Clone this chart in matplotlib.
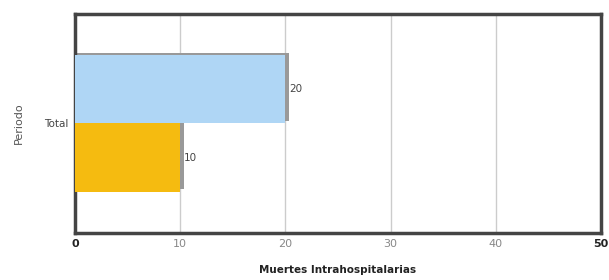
import numpy as np
import matplotlib.pyplot as plt

categories = ['Total']
series_values = [20, 10]
series_colors = ['#afd6f5', '#f5bb10']
x_ticks = [0, 10, 20, 30, 40, 50]

fig = plt.figure(figsize=(6.09, 2.8), dpi=100)
ax = fig.add_axes([0.123, 0.168, 0.864, 0.782])

h = 0.5
offsets = [h / 2, -h / 2]
for v, c, off in zip(series_values, series_colors, offsets):
    # gray shadow up and to the right
    ax.barh(off + 0.018, v + 0.25, height=h, left=0.1, color='#999999', zorder=2)
    ax.barh(off, v, height=h, color=c, zorder=3)
    ax.text(v + 0.35, off, str(v), va='center', ha='left', fontsize=7.5,
            color='#444444', zorder=4)

ax.set_xlim(0, 50)
ax.set_ylim(-0.8, 0.8)
ax.set_xticks(x_ticks)
ax.set_xticklabels([str(t) for t in x_ticks], fontsize=8, color='#888888')
for lbl in (ax.get_xticklabels()[0], ax.get_xticklabels()[-1]):
    lbl.set_fontweight('bold')
    lbl.set_color('#222222')
ax.set_yticks([0])
ax.set_yticklabels(categories, fontsize=7.5, color='#444444')
ax.tick_params(axis='x', length=0, pad=4)
ax.tick_params(axis='y', length=0, pad=5)
ax.xaxis.grid(True, color='#cccccc', linewidth=1)
ax.set_axisbelow(True)
for s in ax.spines.values():
    s.set_linewidth(2.5)
    s.set_color('#444444')

ax.set_xlabel('Muertes Intrahospitalarias', fontsize=7.5, fontweight='bold',
              color='#222222', labelpad=12)
ax.set_ylabel('Periodo', fontsize=8, color='#555555', labelpad=14)

fig.savefig('out.png', dpi=100)
